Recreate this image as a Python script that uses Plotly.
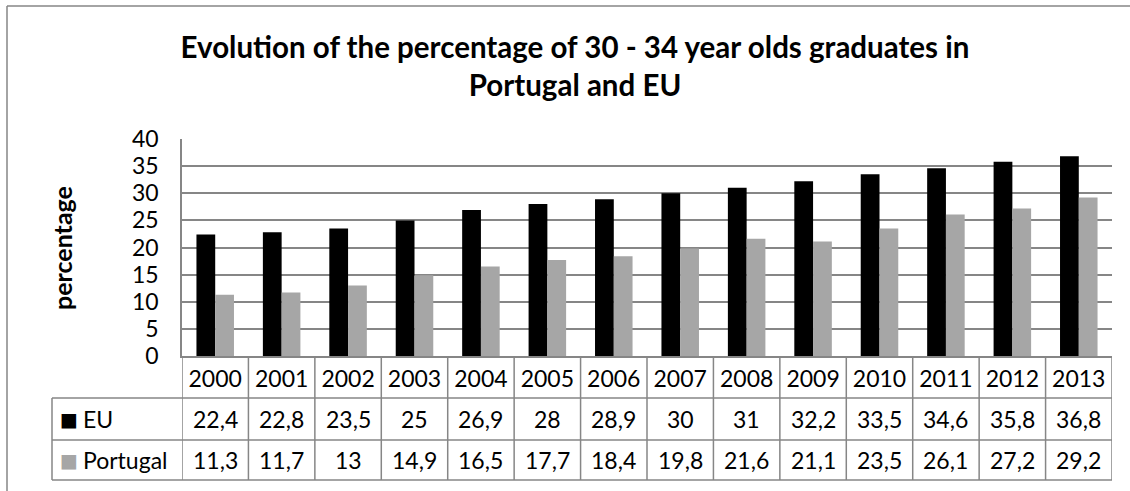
import plotly.graph_objects as go

years = ["2000", "2001", "2002", "2003", "2004", "2005", "2006",
         "2007", "2008", "2009", "2010", "2011", "2012", "2013"]
eu = [22.4, 22.8, 23.5, 25, 26.9, 28, 28.9, 30, 31, 32.2, 33.5, 34.6, 35.8, 36.8]
portugal = [11.3, 11.7, 13, 14.9, 16.5, 17.7, 18.4, 19.8, 21.6, 21.1, 23.5, 26.1, 27.2, 29.2]
series_names = ["EU", "Portugal"]
series_colors = ["#000000", "#a6a6a6"]
title_text = "Evolution of the percentage of 30 - 34 year olds graduates in<br>Portugal and EU"
y_title = "percentage"

W, H = 1130, 491
L, R, T, B = 182, 18, 139, 135
PH = H - T - B   # plot height in px
PW = W - L - R   # plot width in px
FONT = "Lato"
GRID = "#868686"

def py(px):
    """pixel row -> paper y"""
    return (H - B - px) / PH

def pxx(px):
    """pixel column -> paper x"""
    return (px - L) / PW

def fmt(v):
    s = ("%g" % v)
    return s.replace(".", ",")

fig = go.Figure()
for name, vals, col in zip(series_names, [eu, portugal], series_colors):
    fig.add_trace(go.Bar(x=years, y=vals, name=name, marker=dict(color=col, line=dict(width=0)),
                         showlegend=False))

shapes = []
# table vertical lines at category boundaries
for i in range(len(years) + 1):
    shapes.append(dict(type="line", xref="x", yref="paper", x0=i - 0.5, x1=i - 0.5,
                       y0=py(480), y1=0, line=dict(color=GRID, width=1.5)))
# table horizontal lines
for ypx in [398, 440, 480]:
    shapes.append(dict(type="line", xref="paper", yref="paper", x0=pxx(52), x1=1,
                       y0=py(ypx), y1=py(ypx), line=dict(color=GRID, width=1.5)))
# left border of legend column
shapes.append(dict(type="line", xref="paper", yref="paper", x0=pxx(52), x1=pxx(52),
                   y0=py(480), y1=py(398), line=dict(color=GRID, width=1.5)))
# outer chart border (top and left visible)
shapes.append(dict(type="line", xref="paper", yref="paper", x0=pxx(7), x1=pxx(1140),
                   y0=py(6), y1=py(6), line=dict(color=GRID, width=1.5)))
shapes.append(dict(type="line", xref="paper", yref="paper", x0=pxx(7), x1=pxx(7),
                   y0=py(6), y1=py(500), line=dict(color=GRID, width=1.5)))

annotations = []
row_centers = [419, 460]
for vals, rc in zip([eu, portugal], row_centers):
    for i, v in enumerate(vals):
        annotations.append(dict(x=i, xref="x", y=py(rc), yref="paper", text=fmt(v),
                                showarrow=False, xanchor="center", yanchor="middle",
                                font=dict(family=FONT, size=23, color="#000")))
# legend keys in first column
for name, col, rc in zip(series_names, series_colors, row_centers):
    annotations.append(dict(x=pxx(58), xref="paper", y=py(rc), yref="paper",
                            text="■", showarrow=False, xanchor="left", yanchor="middle",
                            font=dict(family="DejaVu Sans", size=19, color=col)))
    annotations.append(dict(x=pxx(81), xref="paper", y=py(rc), yref="paper", text=name,
                            showarrow=False, xanchor="left", yanchor="middle",
                            font=dict(family=FONT, size=23, color="#000")))
# y axis title
annotations.append(dict(x=pxx(62), xref="paper", y=py(248), yref="paper", text="<b>%s</b>" % y_title,
                        showarrow=False, textangle=-90, xanchor="center", yanchor="middle",
                        font=dict(family=FONT, size=25, color="#000")))

fig.update_layout(
    width=W, height=H,
    margin=dict(l=L, r=R, t=T, b=B),
    paper_bgcolor="white", plot_bgcolor="white",
    barmode="group", bargap=0.435, bargroupgap=0,
    title=dict(text="<b>%s</b>" % title_text, x=575 / W, xanchor="center",
               xref="container", yref="container", y=1 - 58 / H, yanchor="top",
               font=dict(family=FONT, size=29.5, color="#000")),
    font=dict(family=FONT, color="#000"),
    shapes=shapes, annotations=annotations,
)
fig.update_xaxes(type="category", range=[-0.5, len(years) - 0.5], showgrid=False,
                 showline=True, linecolor=GRID, linewidth=1.5, ticks="",
                 tickfont=dict(family=FONT, size=23, color="#000"), ticklabelstandoff=2)
fig.update_yaxes(range=[0, 40], dtick=5, showgrid=True, gridcolor=GRID, gridwidth=1.5,
                 showline=True, linecolor=GRID, linewidth=1.5, ticks="", zeroline=False,
                 tickfont=dict(family=FONT, size=23, color="#000"), ticklabelstandoff=17)

fig.write_html("out.html", config={"displayModeBar": False},
               post_script="document.body.style.margin='0';document.body.style.overflow='hidden';")
